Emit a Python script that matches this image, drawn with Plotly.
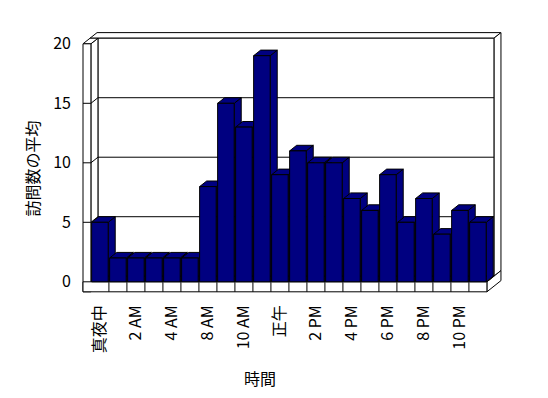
import plotly.graph_objects as go

# ---- data ----
hours = ["真夜中", "1 AM", "2 AM", "3 AM", "4 AM", "5 AM", "8 AM", "9 AM", "10 AM", "11 AM",
         "正午", "1 PM", "2 PM", "3 PM", "4 PM", "5 PM", "6 PM", "7 PM", "8 PM", "9 PM",
         "10 PM", "11 PM"]
visits = [5, 2, 2, 2, 2, 2, 8, 15, 13, 19, 9, 11, 10, 10, 7, 6, 9, 5, 7, 4, 6, 5]
y_ticks = [0, 5, 10, 15, 20]
x_title = "時間"
y_title = "訪問数の平均"

# ---- styling / geometry ----
FONT = "Noto Sans CJK JP"
NAVY = "#000080"
N = len(hours)
Y_MAX = y_ticks[-1]
XL, XR = -0.5, N - 0.5          # category band edges
DX, DY = 0.39, 0.47             # oblique depth offset (data units)
TW, FT = 0.44, 0.84             # wall / floor thickness
BW = 0.92                       # bar width

W, H = 548, 398
ML, MR, MT, MB = 82, 45, 30, 105
PX_X, PX_Y = 18.0, 11.9         # px per unit
x_range = [XL - TW - 1.0 / PX_X, XL - TW + (W - ML - MR - 1) / PX_X]
y_range = [-FT - 1.2 / PX_Y, -FT + (H - MT - MB - 1.2) / PX_Y]


def path(pts):
    return "M " + " L ".join(f"{x:.4f},{y:.4f}" for x, y in pts) + " Z"


BLACK = dict(color="black", width=1)
shapes = []


def face(pts, fill="white"):
    shapes.append(dict(type="path", path=path(pts), xref="x", yref="y",
                       fillcolor=fill, line=BLACK, layer="below"))


def seg(x0, y0, x1, y1):
    shapes.append(dict(type="line", x0=x0, y0=y0, x1=x1, y1=y1, xref="x", yref="y",
                       line=BLACK, layer="below"))


# back wall top
face([(XL - TW + DX, Y_MAX + DY), (XR + DX, Y_MAX + DY), (XR + 2 * DX, Y_MAX + 2 * DY),
      (XL - TW + 2 * DX, Y_MAX + 2 * DY)])
# back wall right side
face([(XR + DX, DY), (XR + DX, Y_MAX + DY), (XR + 2 * DX, Y_MAX + 2 * DY), (XR + 2 * DX, 2 * DY)])
# floor right side
face([(XR, -FT), (XR, 0), (XR + DX, DY), (XR + 2 * DX, 2 * DY), (XR + 2 * DX, -FT + 2 * DY)])
# back wall inner face
face([(XL + DX, DY), (XR + DX, DY), (XR + DX, Y_MAX + DY), (XL + DX, Y_MAX + DY)])
# left wall inner face
face([(XL, 0), (XL, Y_MAX), (XL + DX, Y_MAX + DY), (XL + DX, DY)])
# left wall top
face([(XL - TW, Y_MAX), (XL, Y_MAX), (XL + DX, Y_MAX + DY), (XL - TW + DX, Y_MAX + DY)])
# floor top
face([(XL, 0), (XR, 0), (XR + DX, DY), (XL + DX, DY)])
# left wall front
face([(XL - TW, -FT), (XL, -FT), (XL, Y_MAX), (XL - TW, Y_MAX)])
# floor front
face([(XL - TW, -FT), (XR, -FT), (XR, 0), (XL - TW, 0)])

# gridlines, wall ticks
for v in y_ticks[1:-1]:
    seg(XL + DX, v + DY, XR + DX, v + DY)
    seg(XL, v, XL + DX, v + DY)
    seg(XL - TW, v, XL, v)
# category dividers on floor front
for k in range(1, N):
    seg(XL + k, -FT, XL + k, 0)

# bar tops and sides (fronts drawn by the bar trace)
for k, v in enumerate(visits):
    r = k + BW / 2
    l = k - BW / 2
    face([(r, 0), (r, v), (r + DX, v + DY), (r + DX, DY)], NAVY)
    face([(l, v), (r, v), (r + DX, v + DY), (l + DX, v + DY)], NAVY)

fig = go.Figure(go.Bar(
    x=list(range(N)), y=visits, width=BW,
    marker=dict(color=NAVY, line=dict(color="black", width=1)),
    hovertext=hours, showlegend=False,
))

fig.update_layout(
    width=W, height=H,
    margin=dict(l=ML, r=MR, t=MT, b=MB, pad=0),
    paper_bgcolor="white", plot_bgcolor="white",
    font=dict(family=FONT, size=16, color="black"),
    shapes=shapes,
    xaxis=dict(range=x_range, showgrid=False, zeroline=False, showline=False,
               tickmode="array", tickvals=list(range(0, N, 2)), ticktext=hours[0::2],
               tickangle=-90, ticks="", ticklabelstandoff=8, fixedrange=True),
    yaxis=dict(range=y_range, showgrid=False, zeroline=False, showline=False,
               tickmode="array", tickvals=y_ticks, ticks="", ticklabelstandoff=10,
               fixedrange=True),
    annotations=[
        dict(text=x_title, xref="paper", yref="paper",
             x=(260 - ML) / (W - ML - MR), y=-(378 - (H - MB)) / (H - MT - MB),
             showarrow=False, xanchor="center", yanchor="middle", font=dict(size=16)),
        dict(text=y_title, xref="paper", yref="paper", textangle=-90,
             x=(31.5 - ML) / (W - ML - MR), y=((H - MB) - 169) / (H - MT - MB),
             showarrow=False, xanchor="center", yanchor="middle", font=dict(size=16)),
    ],
)

fig.write_html("out.html")
